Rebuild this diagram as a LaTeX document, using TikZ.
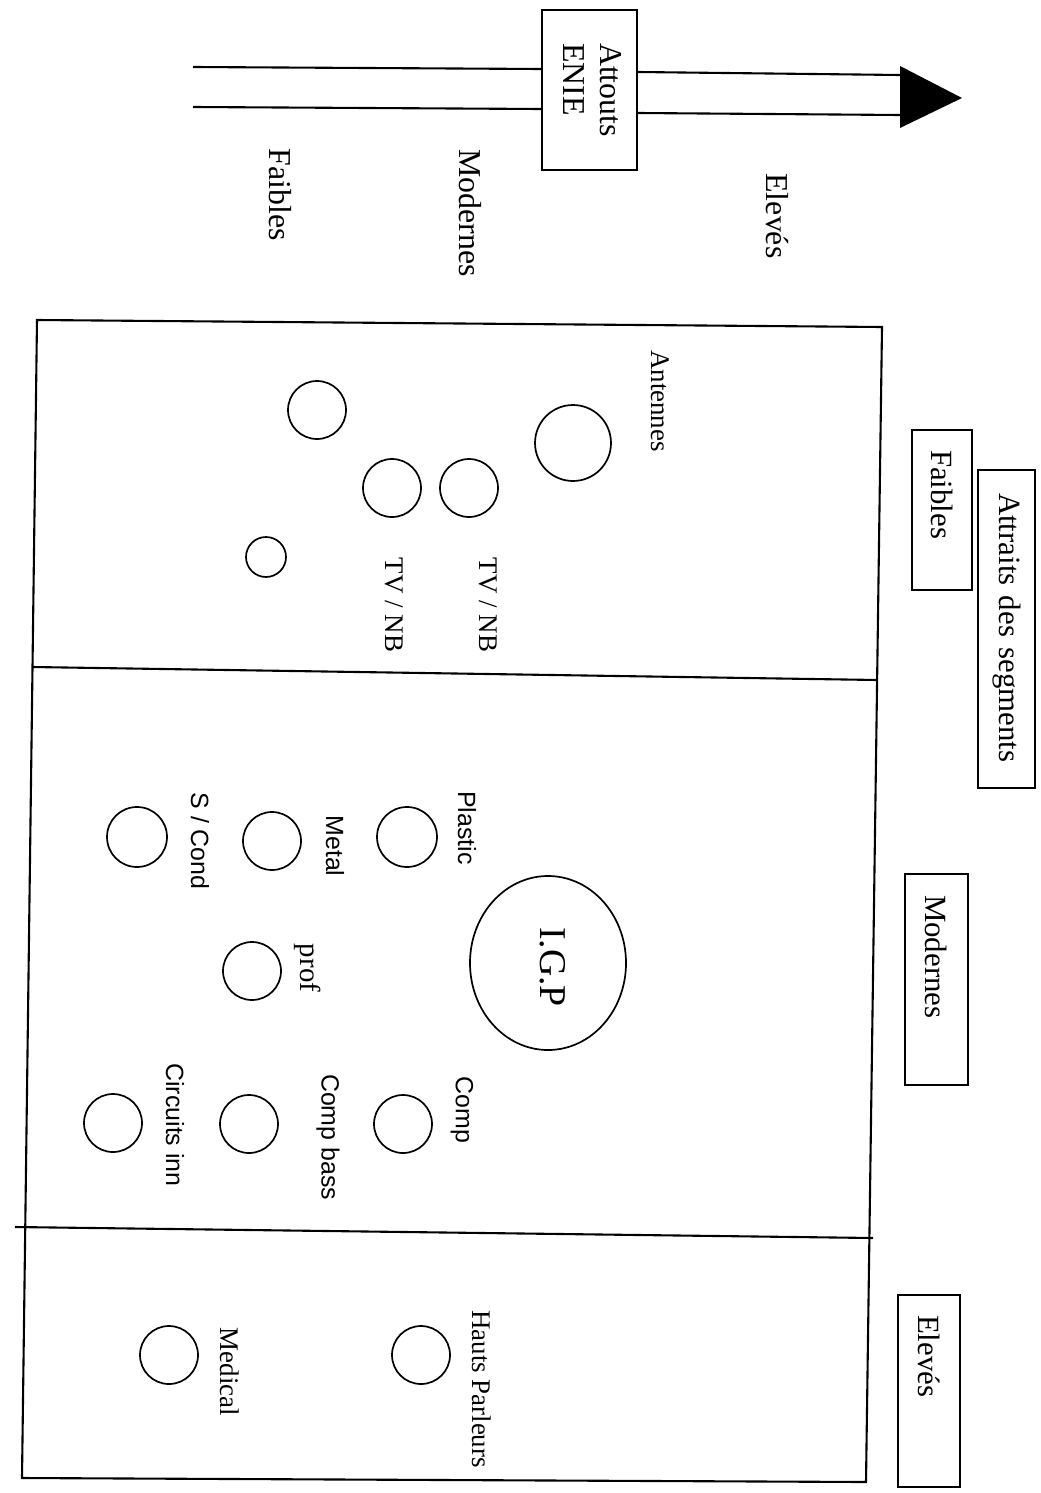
\documentclass[tikz,border=0pt]{standalone}
\usepackage{fontspec}
\setmainfont{Liberation Serif}
\newfontfamily\sanslab{Liberation Sans}
\usetikzlibrary{shapes.geometric}
\begin{document}
\begin{tikzpicture}[x=1bp,y=-1bp,
  line width=2.1bp,
  lab/.style={rotate=-90, inner sep=0pt, font=\fontsize{27}{30}\selectfont},
  slab/.style={rotate=-90, inner sep=0pt, font=\sanslab\fontsize{25}{28}\selectfont},
  toplab/.style={rotate=-90, inner sep=0pt, font=\fontsize{32}{36}\selectfont},
  rbox/.style={draw, line width=1.9bp, rotate=-90, align=left, inner ysep=0pt, font=\fontsize{31}{36}\selectfont},
  dot/.style={circle, draw, line width=1.7bp, inner sep=0pt, minimum size=#1},
]
\useasboundingbox (0,0) rectangle (1040,1493);

% ---- top arrow ----
\node[draw, line width=1.9bp, minimum width=95bp, minimum height=160bp, inner sep=0pt,
      font=\fontsize{32}{38}\selectfont] (enie) at (589.5,90)
  {\raisebox{0pt}{\rotatebox{-90}{\begin{tabular}{@{}l@{}}Attouts\\ENIE\end{tabular}}}};
\coordinate (a1) at (193,67);
\coordinate (a2) at (193,107);
\coordinate (b1) at (900,75);
\coordinate (b2) at (900,115);
\coordinate (tip) at (962,98);
\coordinate (h1) at (900,66);
\coordinate (h2) at (900,128);
\draw (a1) -- (enie.west |- 0,69);
\draw (a2) -- (enie.west |- 0,109);
\draw (enie.east |- 0,72) -- (b1);
\draw (enie.east |- 0,113) -- (b2);
\fill (h1) -- (tip) -- (h2) -- cycle;

\node[toplab] (tf) at (280,195) {Faibles};
\node[toplab] (tm) at (470,213) {Modernes};
\node[toplab] (te) at (777,216) {Elevés};

% ---- main panel ----
\coordinate (p1) at (37,320);
\coordinate (p2) at (882,327);
\coordinate (p3) at (866,1482);
\coordinate (p4) at (22,1478);
\draw (p1) -- (p2) -- (p3) -- (p4) -- cycle;
\coordinate (d1l) at (32.5,667);
\coordinate (d1r) at (877,680);
\coordinate (d2l) at (15,1227);
\coordinate (d2r) at (873,1238);
\draw (d1l) -- (d1r);
\draw (d2l) -- (d2r);

% Faibles section
\node[dot=76bp] (ant) at (573,443) {};
\node[dot=58bp] (f2) at (317,410) {};
\node[dot=58bp] (tv1) at (469,488) {};
\node[dot=58bp] (tv2) at (392,488) {};
\node[dot=40bp] (f5) at (266,557) {};
\node[lab] (lant) at (660,401) {Antennes};
\node[lab] (ltv1) at (488,605) {TV / NB};
\node[lab] (ltv2) at (394,605) {TV / NB};

% Modernes section
\node[dot=60bp] (plastic) at (407,837) {};
\node[dot=58bp] (metal) at (272,841) {};
\node[dot=60bp] (scond) at (137,837) {};
\node[ellipse, draw, line width=1.7bp, minimum width=156bp, minimum height=174bp, inner sep=0pt] (igp) at (548,963) {};
\node[dot=58bp] (prof) at (252,971) {};
\node[dot=58bp] (comp) at (403,1124) {};
\node[dot=58bp] (compbass) at (249,1124) {};
\node[dot=58bp] (circ) at (113,1123) {};
\node[slab] (lplastic) at (467,828) {Plastic};
\node[slab] (lmetal) at (335,846) {Metal};
\node[slab] (lscond) at (200,841) {S / Cond};
\node[rotate=-90, inner sep=0pt, font=\fontsize{38}{42}\selectfont] (ligp) at (553,967) {I.G.P};
\node[lab, font=\fontsize{29}{32}\selectfont] (lprof) at (308,968) {prof};
\node[slab] (lcomp) at (462,1110) {Comp};
\node[slab] (lcompbass) at (328,1137) {Comp bass};
\node[slab] (lcirc) at (175,1125) {Circuits inn};

% Eleves section
\node[dot=58bp] (hauts) at (421,1355) {};
\node[dot=58bp] (medical) at (169,1355) {};
\node[lab] (lhauts) at (482,1389) {Hauts Parleurs};
\node[lab] (lmedical) at (230,1372) {Medical};

% ---- right boxes ----
\node[rbox, text width=120bp, inner xsep=20bp, minimum height=60bp] (bf) at (942,510) {Faibles};
\node[rbox, text width=272bp, inner xsep=23bp, minimum height=57bp] (ba) at (1006.5,629) {Attraits des segments};
\node[rbox, text width=169bp, inner xsep=21bp, minimum height=63bp] (bm) at (936.5,979.5) {Modernes};
\node[rbox, text width=152bp, inner xsep=20bp, minimum height=62bp] (be) at (929,1391) {Elevés};
\end{tikzpicture}
\end{document}
